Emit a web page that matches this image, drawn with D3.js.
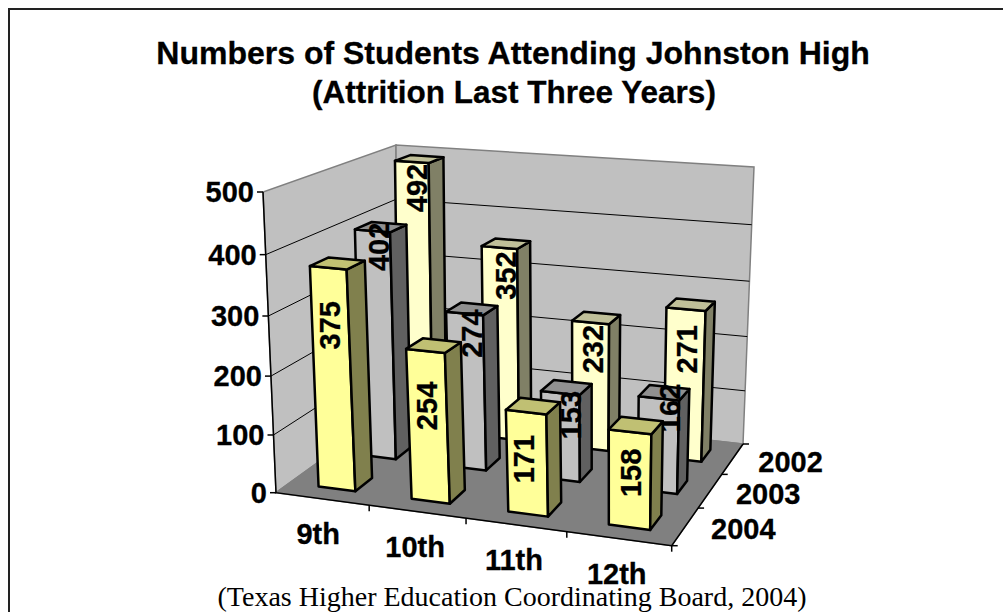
<!DOCTYPE html>
<html>
<head>
<meta charset="utf-8">
<script src="https://d3js.org/d3.v7.min.js"></script>
<style>
  html, body { margin: 0; padding: 0; background: #fff; overflow: hidden; }
  text { font-family: "Liberation Sans", Arial, sans-serif; font-weight: bold; fill: #000; stroke: #000; stroke-width: 0.3px; }
  .source { font-family: "Liberation Serif", "Times New Roman", serif; font-weight: normal; stroke: none; }
</style>
</head>
<body>
<script>
var grades = ['9th', '10th', '11th', '12th'];
var years = ['2004', '2003', '2002']; // front row first
var students2004 = [375, 254, 171, 158];
var students2003 = [402, 274, 153, 162];
var students2002 = [492, 352, 232, 271];

window.onload = function(){
    var seriesByYear = { '2004': students2004, '2003': students2003, '2002': students2002 };

    var colors = {
        '2004': { front: '#ffff99', side: '#80804d', top: '#c0c073' },
        '2003': { front: '#c0c0c0', side: '#606060', top: '#909090' },
        '2002': { front: '#ffffcc', side: '#808066', top: '#c0c099' }
    };

    // Label position relative to the middle of the bar's top front edge
    var labelNudge = {
        '2004': [[1.5, 57.5], [1.3, 55], [-2, 47], [1, 41]],
        '2003': [[6, 16], [7, 20], [10, 22], [11, 9.5]],
        '2002': [[5, 26], [6, 28], [2.5, 26.5], [1, 40]]
    };

    // Corners of the chart box as the picture shows them
    var floorQuad = [[276, 492.7], [671.7, 545.7], [743, 444], [397.5, 405]];
    var ceilQuad = [[263, 192], [678, 226], [754, 167], [396, 145]];

    // Homography from the unit square to a quad
    function quadMap(q){
        var dx1 = q[1][0] - q[2][0], dx2 = q[3][0] - q[2][0], sx = q[0][0] - q[1][0] + q[2][0] - q[3][0],
            dy1 = q[1][1] - q[2][1], dy2 = q[3][1] - q[2][1], sy = q[0][1] - q[1][1] + q[2][1] - q[3][1],
            det = dx1 * dy2 - dx2 * dy1,
            g = (sx * dy2 - dx2 * sy) / det,
            h = (dx1 * sy - sx * dy1) / det,
            a = q[1][0] - q[0][0] + g * q[1][0],
            b = q[3][0] - q[0][0] + h * q[3][0],
            d = q[1][1] - q[0][1] + g * q[1][1],
            e = q[3][1] - q[0][1] + h * q[3][1];
        return function(u, w){
            var k = g * u + h * w + 1;
            return [(a * u + b * w + q[0][0]) / k, (d * u + e * w + q[0][1]) / k];
        };
    }

    var floorMap = quadMap(floorQuad),
        ceilMap = quadMap(ceilQuad);

    // Grades and years sit a touch right of an even split
    var x = d3.scaleBand().domain(grades).range([0.004, 1.004]).paddingInner(0.6).paddingOuter(0.3),
        z = d3.scaleBand().domain(years).range([0, 1]).paddingInner(0.6).paddingOuter(0.3),
        y = d3.scaleLinear().domain([0, 500]).range([0, 1]);

    var foreshorten = 0.05; // value ticks spread out towards the top

    // grade position, depth position, value -> screen
    function project(u, w, v){
        var a = floorMap(u, w), b = ceilMap(u, w), s = y(v),
            t = s * (1 - foreshorten) / (1 - foreshorten * s);
        return [a[0] + (b[0] - a[0]) * t, a[1] + (b[1] - a[1]) * t];
    }

    var line = d3.line();

    var canvas = d3.select('body')
        .append('svg')
        .attr('width', 1003)
        .attr('height', 612)
        .style('display', 'block');

    // Frame, only top and left are in the picture
    canvas.append('path')
        .attr('d', 'M9,612V9H1003')
        .attr('fill', 'none')
        .attr('stroke', '#222')
        .attr('stroke-width', 2);

    // Title
    canvas.append('text').attr('x', 513).attr('y', 64)
        .attr('text-anchor', 'middle').style('font-size', '32px')
        .text('Numbers of Students Attending Johnston High');
    canvas.append('text').attr('x', 514).attr('y', 103)
        .attr('text-anchor', 'middle').style('font-size', '31.5px')
        .text('(Attrition Last Three Years)');

    // Walls and floor
    function face(points, fill, stroke){
        return canvas.append('path')
            .attr('d', line(points) + 'Z')
            .attr('fill', fill)
            .attr('stroke', stroke)
            .attr('stroke-width', 1.5)
            .attr('stroke-linejoin', 'miter');
    }

    face([project(0, 0, 0), project(0, 1, 0), project(0, 1, 500), project(0, 0, 500)], '#c0c0c0', '#808080');
    face([project(0, 1, 0), project(1, 1, 0), project(1, 1, 500), project(0, 1, 500)], '#c0c0c0', '#808080');
    face([project(0, 0, 0), project(1, 0, 0), project(1, 1, 0), project(0, 1, 0)], '#808080', '#808080');

    // Gridlines
    var gridValues = y.ticks(5).filter(function(d){ return d > 0 && d < 500; });
    canvas.selectAll('.grid')
        .data(gridValues)
        .enter()
        .append('path')
        .attr('class', 'grid')
        .attr('d', function(d){ return line([project(0, 0, d), project(0, 1, d), project(1, 1, d)]); })
        .attr('fill', 'none')
        .attr('stroke', '#000')
        .attr('stroke-width', 1);

    // Axis lines
    function axisLine(points){
        canvas.append('path')
            .attr('d', line(points))
            .attr('fill', 'none')
            .attr('stroke', '#000')
            .attr('stroke-width', 1.5);
    }
    axisLine([project(0, 0, 500), project(0, 0, 0), project(1, 0, 0), project(1, 1, 0)]);

    // Value axis
    y.ticks(5).forEach(function(d){
        var p = project(0, 0, d);
        axisLine([[p[0] - 6, p[1]], p]);
        canvas.append('text')
            .attr('x', p[0] - 9).attr('y', p[1] + 10)
            .attr('text-anchor', 'end').style('font-size', '29px')
            .text(d);
    });

    // Grade axis
    grades.forEach(function(g, i){
        var step = 1 / grades.length,
            p = project((i + 1) * step, 0, 0),
            c = project((i + 0.5) * step, 0, 0);
        axisLine([p, [p[0], p[1] + 6]]);
        canvas.append('text')
            .attr('x', c[0] - 2 - (i === 0 ? 2 : 0)).attr('y', c[1] + 45)
            .attr('text-anchor', 'middle').style('font-size', '29px')
            .text(g);
    });

    // Year axis
    years.forEach(function(yr, i){
        var step = z.step(),
            p = project(1, (i + 1) * step, 0),
            c = project(1, (i + 0.5) * step, 0);
        axisLine([p, [p[0] + 6, p[1]]]);
        canvas.append('text')
            .attr('x', c[0] + 58).attr('y', c[1] + 13)
            .attr('text-anchor', 'middle').style('font-size', '29px')
            .text(yr);
    });
    var corner = project(1, 0, 0);
    axisLine([corner, [corner[0] + 6, corner[1]]]);

    // Bars, back row first. Labels go with their row, front bars can cover them.
    years.slice().reverse().forEach(function(yr){
        var w0 = z(yr), w1 = w0 + z.bandwidth();
        grades.forEach(function(g, i){
            var v = seriesByYear[yr][i],
                u0 = x(g), u1 = u0 + x.bandwidth(),
                c = colors[yr];

            var bar = canvas.append('g').attr('class', 'bar');
            function barFace(points, fill){
                bar.append('path')
                    .attr('d', line(points) + 'Z')
                    .attr('fill', fill)
                    .attr('stroke', '#000')
                    .attr('stroke-width', 2.5)
                    .attr('stroke-linejoin', 'round');
            }
            barFace([project(u0, w0, 0), project(u1, w0, 0), project(u1, w0, v), project(u0, w0, v)], c.front);
            barFace([project(u1, w0, 0), project(u1, w1, 0), project(u1, w1, v), project(u1, w0, v)], c.side);
            barFace([project(u0, w0, v), project(u1, w0, v), project(u1, w1, v), project(u0, w1, v)], c.top);

            var m = project((u0 + u1) / 2, w0, v), n = labelNudge[yr][i];
            bar.append('text')
                .attr('transform', 'translate(' + (m[0] + n[0]) + ',' + (m[1] + n[1]) + ') rotate(-90)')
                .attr('text-anchor', 'middle')
                .attr('dy', '0.36em')
                .style('font-size', '29px')
                .text(v);
        });
    });

    // Source line
    canvas.append('text').attr('class', 'source')
        .attr('x', 512).attr('y', 606)
        .attr('text-anchor', 'middle').style('font-size', '28px')
        .text('(Texas Higher Education Coordinating Board, 2004)');
};
</script>
</body>
</html>
